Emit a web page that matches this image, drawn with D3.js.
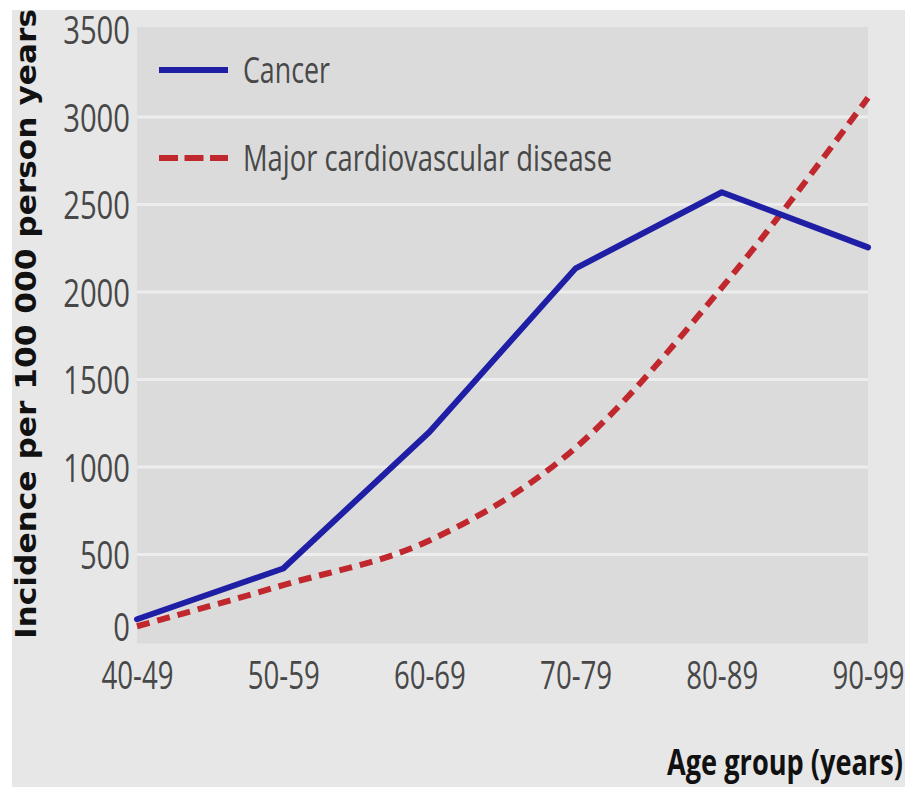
<!DOCTYPE html>
<html>
<head>
<meta charset="utf-8">
<script src="https://cdn.jsdelivr.net/npm/d3@7"></script>
<style>
  body { margin: 0; background: #fff; }
  .tick text { font-family: "Open Sans", sans-serif; fill: #484848; }
</style>
</head>
<body>
<div id="chart"></div>
<script>
// Age groups on x axis
const ageGroups = ['40-49', '50-59', '60-69', '70-79', '80-89', '90-99'];
// Incidence per 100 000 person years
const cancer = [130, 420, 1200, 2135, 2570, 2255];
const cardio = [90, 325, 580, 1110, 2025, 3110];
const yTicks = [0, 500, 1000, 1500, 2000, 2500, 3000, 3500];

const width = 909;
const height = 787;
const margin = { left: 137, right: 41, top: 29.5, bottom: 145 };

const svg = d3.select('#chart').append('svg')
  .attr('width', width)
  .attr('height', height);

// outer panel
svg.append('rect')
  .attr('x', 12).attr('y', 10)
  .attr('width', 893).attr('height', 777)
  .attr('fill', '#e7e7e7');

const x = d3.scalePoint()
  .domain(ageGroups)
  .range([margin.left, width - margin.right]);

const y = d3.scaleLinear()
  .domain([0, 3500])
  .range([height - margin.bottom, margin.top]);

// plot area
svg.append('rect')
  .attr('x', margin.left).attr('y', y(3500) - 2.5)
  .attr('width', width - margin.right - margin.left)
  .attr('height', y(0) - y(3500) + 4)
  .attr('fill', '#dbdbdb');

// gridlines
svg.append('g')
  .selectAll('line')
  .data(yTicks.filter(d => d > 0 && d < 3500))
  .join('line')
  .attr('x1', margin.left)
  .attr('x2', width - margin.right)
  .attr('y1', d => y(d))
  .attr('y2', d => y(d))
  .attr('stroke', '#ededed')
  .attr('stroke-width', 3);

// y axis (condensed look via textLength)
const yAxis = svg.append('g')
  .attr('transform', `translate(${margin.left - 7},0)`)
  .call(d3.axisLeft(y).tickValues(yTicks).tickFormat(d3.format('d')).tickSize(0).tickPadding(0));
yAxis.select('.domain').remove();
yAxis.selectAll('text')
  .attr('font-size', 39)
  .attr('dy', d => d === 0 ? '-0.05em' : '0.36em')
  .attr('textLength', d => String(d).length * 16.7)
  .attr('lengthAdjust', 'spacingAndGlyphs');

// x axis
const xAxis = svg.append('g')
  .attr('transform', `translate(0,${y(0)})`)
  .call(d3.axisBottom(x).tickSize(0));
xAxis.select('.domain').remove();
xAxis.selectAll('text')
  .attr('font-size', 39)
  .attr('y', 47)
  .attr('dy', 0)
  .attr('textLength', 72)
  .attr('lengthAdjust', 'spacingAndGlyphs');

// lines
const cancerLine = d3.line()
  .x((d, i) => x(ageGroups[i]))
  .y(d => y(d));

const cardioLine = d3.line()
  .x((d, i) => x(ageGroups[i]))
  .y(d => y(d))
  .curve(d3.curveMonotoneX);

svg.append('path')
  .datum(cardio)
  .attr('d', cardioLine)
  .attr('fill', 'none')
  .attr('stroke', '#c0282e')
  .attr('stroke-width', 6)
  .attr('stroke-dasharray', '13,8');

svg.append('path')
  .datum(cancer)
  .attr('d', cancerLine)
  .attr('fill', 'none')
  .attr('stroke', '#1f1fa6')
  .attr('stroke-width', 6)
  .attr('stroke-linejoin', 'round')
  .attr('stroke-linecap', 'round');

// legend
const legend = [
  { label: 'Cancer', color: '#1f1fa6', dash: null, y: 70, w: 87 },
  { label: 'Major cardiovascular disease', color: '#c0282e', dash: '19,6.5', y: 158, w: 369 }
];
legend.forEach(l => {
  svg.append('line')
    .attr('x1', 159).attr('x2', 228)
    .attr('y1', l.y).attr('y2', l.y)
    .attr('stroke', l.color)
    .attr('stroke-width', 6)
    .attr('stroke-dasharray', l.dash);
  svg.append('text')
    .attr('x', 243).attr('y', l.y)
    .attr('dy', '0.36em')
    .attr('font-family', '"Open Sans", sans-serif')
    .attr('font-size', 36)
    .attr('fill', '#484848')
    .attr('textLength', l.w)
    .attr('lengthAdjust', 'spacingAndGlyphs')
    .text(l.label);
});

// axis titles
svg.append('text')
  .attr('transform', 'translate(36,324) rotate(-90)')
  .attr('text-anchor', 'middle')
  .attr('font-family', '"DejaVu Sans", sans-serif')
  .attr('font-weight', 'bold')
  .attr('font-size', 28)
  .attr('fill', '#111')
  .attr('textLength', 630)
  .attr('lengthAdjust', 'spacingAndGlyphs')
  .text('Incidence per 100 000 person years');

svg.append('text')
  .attr('x', 903).attr('y', 775)
  .attr('text-anchor', 'end')
  .attr('font-family', '"Open Sans", sans-serif')
  .attr('font-weight', 'bold')
  .attr('font-size', 35)
  .attr('fill', '#111')
  .attr('textLength', 236)
  .attr('lengthAdjust', 'spacingAndGlyphs')
  .text('Age group (years)');
</script>
</body>
</html>
